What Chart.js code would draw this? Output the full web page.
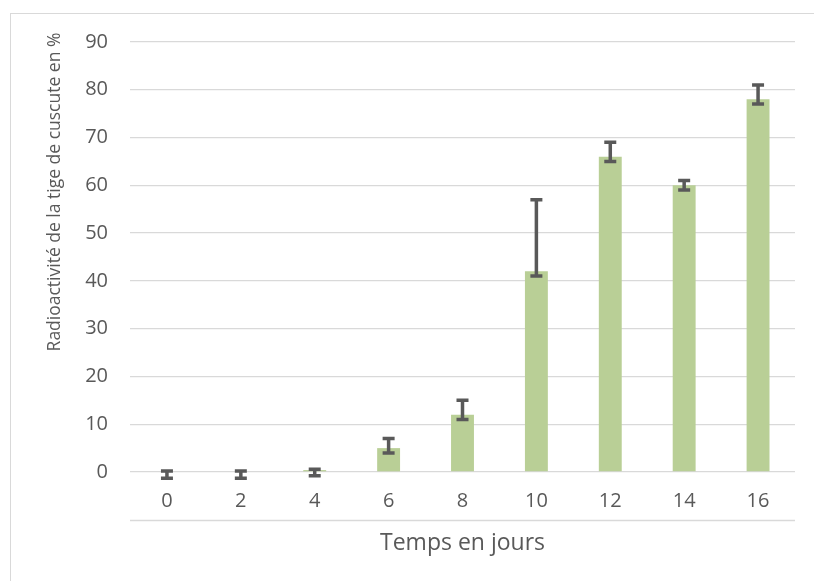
<!DOCTYPE html>
<html>
<head>
<meta charset="utf-8">
<script src="https://cdn.jsdelivr.net/npm/chart.js@4/dist/chart.umd.min.js"></script>
<style>
  html, body { margin: 0; padding: 0; background: #fff; }
  #wrap { position: relative; width: 814px; height: 581px; overflow: hidden; }
  #frame { position: absolute; left: 10px; top: 13px; width: 820px; height: 600px; border: 1px solid #d9d9d9; box-sizing: border-box; }
  canvas { position: absolute; left: 0; top: 0; }
</style>
</head>
<body>
<div id="wrap">
  <div id="frame"></div>
  <canvas id="c" width="814" height="581"></canvas>
</div>
<script>
// Temps (jours) et radioactivité mesurée (%)
const days = ['0', '2', '4', '6', '8', '10', '12', '14', '16'];
const radio = [0, 0, 0.4, 5, 12, 42, 66, 60, 78];
const errPlus = [0.2, 0.2, 0.2, 2, 3, 15, 3, 1, 3];
const errMinus = [1.3, 1.3, 1.2, 1, 1, 1, 1, 1, 1];
const yTicks = [0, 10, 20, 30, 40, 50, 60, 70, 80, 90];

const TXT = '#595959';
const GRID = '#d9d9d9';
const FONT = '"Open Sans", sans-serif';

// error bars drawn on top of the bars, through the chart scales
const errorBars = {
  id: 'errorBars',
  afterDatasetsDraw(chart) {
    const ctx = chart.ctx;
    const x = chart.scales.x, y = chart.scales.y;
    ctx.save();
    ctx.strokeStyle = '#595959';
    ctx.lineWidth = 3.5;
    radio.forEach((v, i) => {
      const px = x.getPixelForValue(i);
      const top = y.getPixelForValue(v + errPlus[i]);
      const bot = y.getPixelForValue(v - errMinus[i]);
      ctx.beginPath();
      ctx.moveTo(px, top); ctx.lineTo(px, bot);
      ctx.moveTo(px - 6, top); ctx.lineTo(px + 6, top);
      ctx.moveTo(px - 6, bot); ctx.lineTo(px + 6, bot);
      ctx.stroke();
    });
    ctx.restore();
  }
};

// axis titles and the rule under the category labels
const decor = {
  id: 'decor',
  afterDraw(chart) {
    const ctx = chart.ctx, a = chart.chartArea;
    ctx.save();
    ctx.strokeStyle = GRID;
    ctx.lineWidth = 1.3;
    ctx.beginPath();
    ctx.moveTo(a.left, a.bottom + 48.5);
    ctx.lineTo(a.right, a.bottom + 48.5);
    ctx.stroke();

    ctx.fillStyle = TXT;
    ctx.textAlign = 'center';
    ctx.textBaseline = 'middle';
    ctx.font = '23px ' + FONT;
    ctx.fillText('Temps en jours', (a.left + a.right) / 2, 543);

    ctx.translate(55, 192);
    ctx.rotate(-Math.PI / 2);
    ctx.font = '17.5px ' + FONT;
    ctx.fillText('Radioactivité de la tige de cuscute en %', 0, 0);
    ctx.restore();
  }
};

new Chart(document.getElementById('c'), {
  type: 'bar',
  data: {
    labels: days,
    datasets: [{
      data: radio,
      backgroundColor: '#b9cf96',
      barPercentage: 0.31,
      categoryPercentage: 1,
    }],
  },
  options: {
    responsive: false,
    animation: false,
    layout: { padding: { left: 0, top: 42, right: 19, bottom: 0 } },
    plugins: { legend: { display: false }, tooltip: { enabled: false } },
    scales: {
      x: {
        grid: { display: false, drawTicks: false },
        border: { display: false },
        ticks: { color: TXT, font: { family: FONT, size: 20 }, padding: 17 },
        afterFit: (s) => { s.height = 109; },
      },
      y: {
        min: 0,
        max: 90,
        afterBuildTicks: (s) => { s.ticks = yTicks.map((v) => ({ value: v })); },
        grid: { color: GRID, lineWidth: 1.3, drawTicks: false },
        border: { display: false },
        ticks: { color: TXT, font: { family: FONT, size: 20 }, padding: 22 },
        afterFit: (s) => { s.width = 130; },
      },
    },
  },
  plugins: [errorBars, decor],
});
</script>
</body>
</html>
